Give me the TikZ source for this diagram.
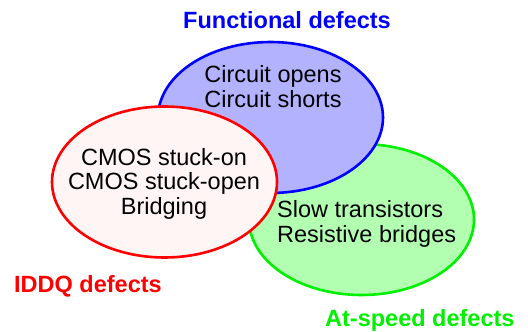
\documentclass[tikz,border=0pt]{standalone}
\usepackage{fontspec}
\setmainfont{Liberation Sans}
\usetikzlibrary{shapes.geometric}
\definecolor{funcblue}{RGB}{0,0,255}
\definecolor{funcfill}{RGB}{178,178,255}
\definecolor{iddqred}{RGB}{255,0,0}
\definecolor{iddqfill}{RGB}{255,245,245}
\definecolor{speedgreen}{RGB}{0,240,0}
\definecolor{speedfill}{RGB}{178,255,178}
\tikzset{
  setbox/.style={ellipse, minimum width=225pt, minimum height=151pt, inner sep=0pt, line width=2.6pt},
  body/.style={font=\fontsize{23.5}{24.5}\selectfont, inner sep=0pt, align=center},
  title/.style={font=\fontsize{23.5}{25}\selectfont\bfseries, inner sep=0pt}
}
\begin{document}
\begin{tikzpicture}[x=1pt, y=-1pt]
  \useasboundingbox (0,0) rectangle (528,332);
  % the three defect classes, drawn back to front
  \node[setbox, draw=speedgreen, fill=speedfill] (speed) at (361.5,219.5) {};
  \node[setbox, draw=funcblue, fill=funcfill] (func) at (270.5,117.5) {};
  \node[setbox, draw=iddqred, fill=iddqfill] (iddq) at (164.5,182) {};
  % contents (anchored at the baseline of the last line)
  \node[body, anchor=base] (functext) at (273,107) {Circuit opens\\Circuit shorts};
  \node[body, anchor=base] (iddqtext) at (164,214) {CMOS stuck-on\\CMOS stuck-open\\Bridging};
  \node[body, anchor=base west, align=left] (speedtext) at (277,242) {Slow transistors\\Resistive bridges};
  % class labels
  \node[title, text=funcblue, anchor=base] (funclabel) at (287,28) {Functional defects};
  \node[title, text=iddqred, anchor=base west] (iddqlabel) at (14,292) {IDDQ defects};
  \node[title, text=speedgreen, anchor=base west] (speedlabel) at (325,326) {At-speed defects};
\end{tikzpicture}
\end{document}
